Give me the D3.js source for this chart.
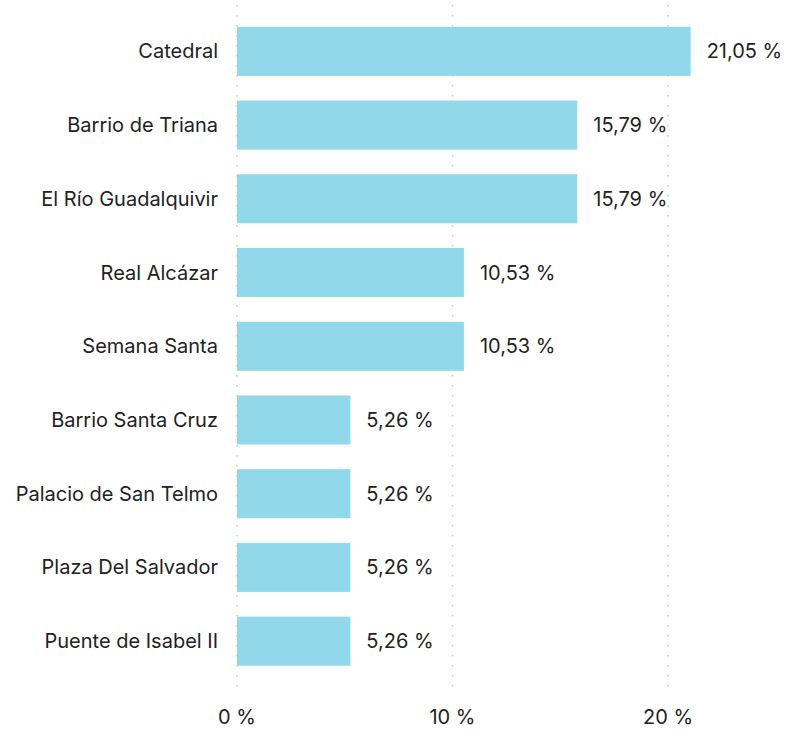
<!DOCTYPE html>
<html><head><meta charset="utf-8">
<script src="https://cdn.jsdelivr.net/npm/d3@7"></script>
<style>body{margin:0;background:#fff;}svg{display:block;font-family:Inter,"Noto Sans",sans-serif;}</style>
</head><body><svg id="c" width="802" height="732"></svg>
<script>
const categories = ["Catedral","Barrio de Triana","El Río Guadalquivir","Real Alcázar","Semana Santa","Barrio Santa Cruz","Palacio de San Telmo","Plaza Del Salvador","Puente de Isabel II"];
const values = [21.05,15.79,15.79,10.53,10.53,5.26,5.26,5.26,5.26];
const ticks = [0,10,20];
const fmt = v => v.toFixed(2).replace(".", ",") + " %";

const svg = d3.select("#c");
const x = d3.scaleLinear().domain([0,20]).range([237,668]);
const y = d3.scaleBand().domain(categories).range([14.5,678]).paddingInner(0.335).paddingOuter(0.1675);

// grid
svg.append("g").selectAll("line").data(ticks).join("line")
  .attr("x1", d=>x(d)).attr("x2", d=>x(d)).attr("y1", 5).attr("y2", 692)
  .attr("stroke", "#c8c8c8").attr("stroke-width", 1.5).attr("stroke-dasharray", "1.5,8.5");

svg.append("g").selectAll("rect").data(values).join("rect")
  .attr("x", x(0)).attr("y", (d,i)=>y(categories[i]))
  .attr("width", d=>x(d)-x(0)).attr("height", y.bandwidth())
  .attr("fill", "#91d8ea");

svg.append("g").selectAll("text").data(categories).join("text")
  .attr("x", 218).attr("y", d=>y(d)+y.bandwidth()/2).attr("dy","0.35em")
  .attr("text-anchor","end").attr("font-size",20).attr("fill","#222").text(d=>d);

svg.append("g").selectAll("text").data(values).join("text")
  .attr("x", d=>x(d)+16).attr("y", (d,i)=>y(categories[i])+y.bandwidth()/2).attr("dy","0.35em")
  .attr("font-size",20).attr("fill","#222").text(fmt);

svg.append("g").selectAll("text").data(ticks).join("text")
  .attr("x", d=>x(d)).attr("y", 717).attr("dy","0.35em")
  .attr("text-anchor","middle").attr("font-size",20).attr("fill","#222").text(d=>d+" %");
</script></body></html>
